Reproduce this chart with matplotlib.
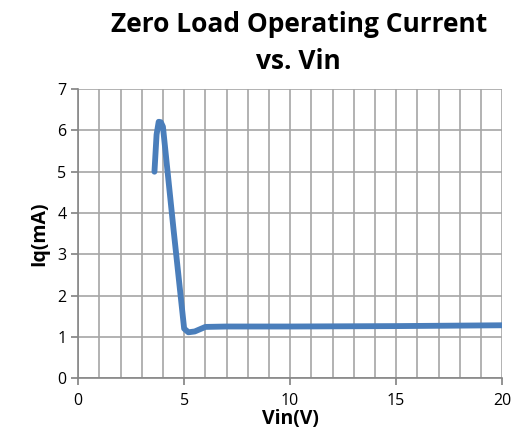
import numpy as np
import matplotlib
matplotlib.use("Agg")
import matplotlib.pyplot as plt

# values
vin = [3.6, 3.7, 3.8, 3.9, 4.0, 4.5, 5.0, 5.2, 5.5, 6.0, 7.0, 10.0, 15.0, 20.0]
iq = [5.0, 5.9, 6.21, 6.2, 6.09, 3.6, 1.2, 1.11, 1.13, 1.24, 1.25, 1.25, 1.26, 1.28]

plt.rcParams['font.family'] = ['Open Sans', 'DejaVu Sans']

fig = plt.figure(figsize=(5.14, 4.48), dpi=100)
ax = fig.add_axes([0.152, 0.156, 0.825, 0.645])

ax.plot(vin, iq, color='#4A7EBB', lw=4.2, solid_capstyle='round', solid_joinstyle='round', zorder=3)

ax.set_xlim(0, 20)
ax.set_ylim(0, 7)
ax.set_xticks(range(0, 21, 5))
ax.set_xticks(range(0, 21), minor=True)
ax.set_yticks(range(0, 8))
ax.grid(True, which='both', color='#A6A6A6', lw=1.2)
ax.tick_params(axis='x', which='minor', length=0)
ax.tick_params(axis='both', which='major', labelsize=11.5, color='#808080', length=5, width=1.2)
ax.tick_params(axis='x', pad=6)
ax.set_axisbelow(True)

for s in ['top', 'right']:
    ax.spines[s].set_visible(False)
ax.spines['left'].set_color('#868686')
ax.spines['bottom'].set_color('#868686')
ax.spines['left'].set_linewidth(1.2)
ax.spines['bottom'].set_linewidth(1.2)

ax.set_xlabel('Vin(V)', fontsize=14, fontweight='bold', labelpad=0)
ax.set_ylabel('Iq(mA)', fontsize=14, fontweight='bold', labelpad=6)
fig.text(0.581, 0.975, 'Zero Load Operating Current\nvs. Vin', ha='center', va='top',
         fontsize=19, fontweight='bold', linespacing=1.45)

fig.savefig('out.png', dpi=100)
